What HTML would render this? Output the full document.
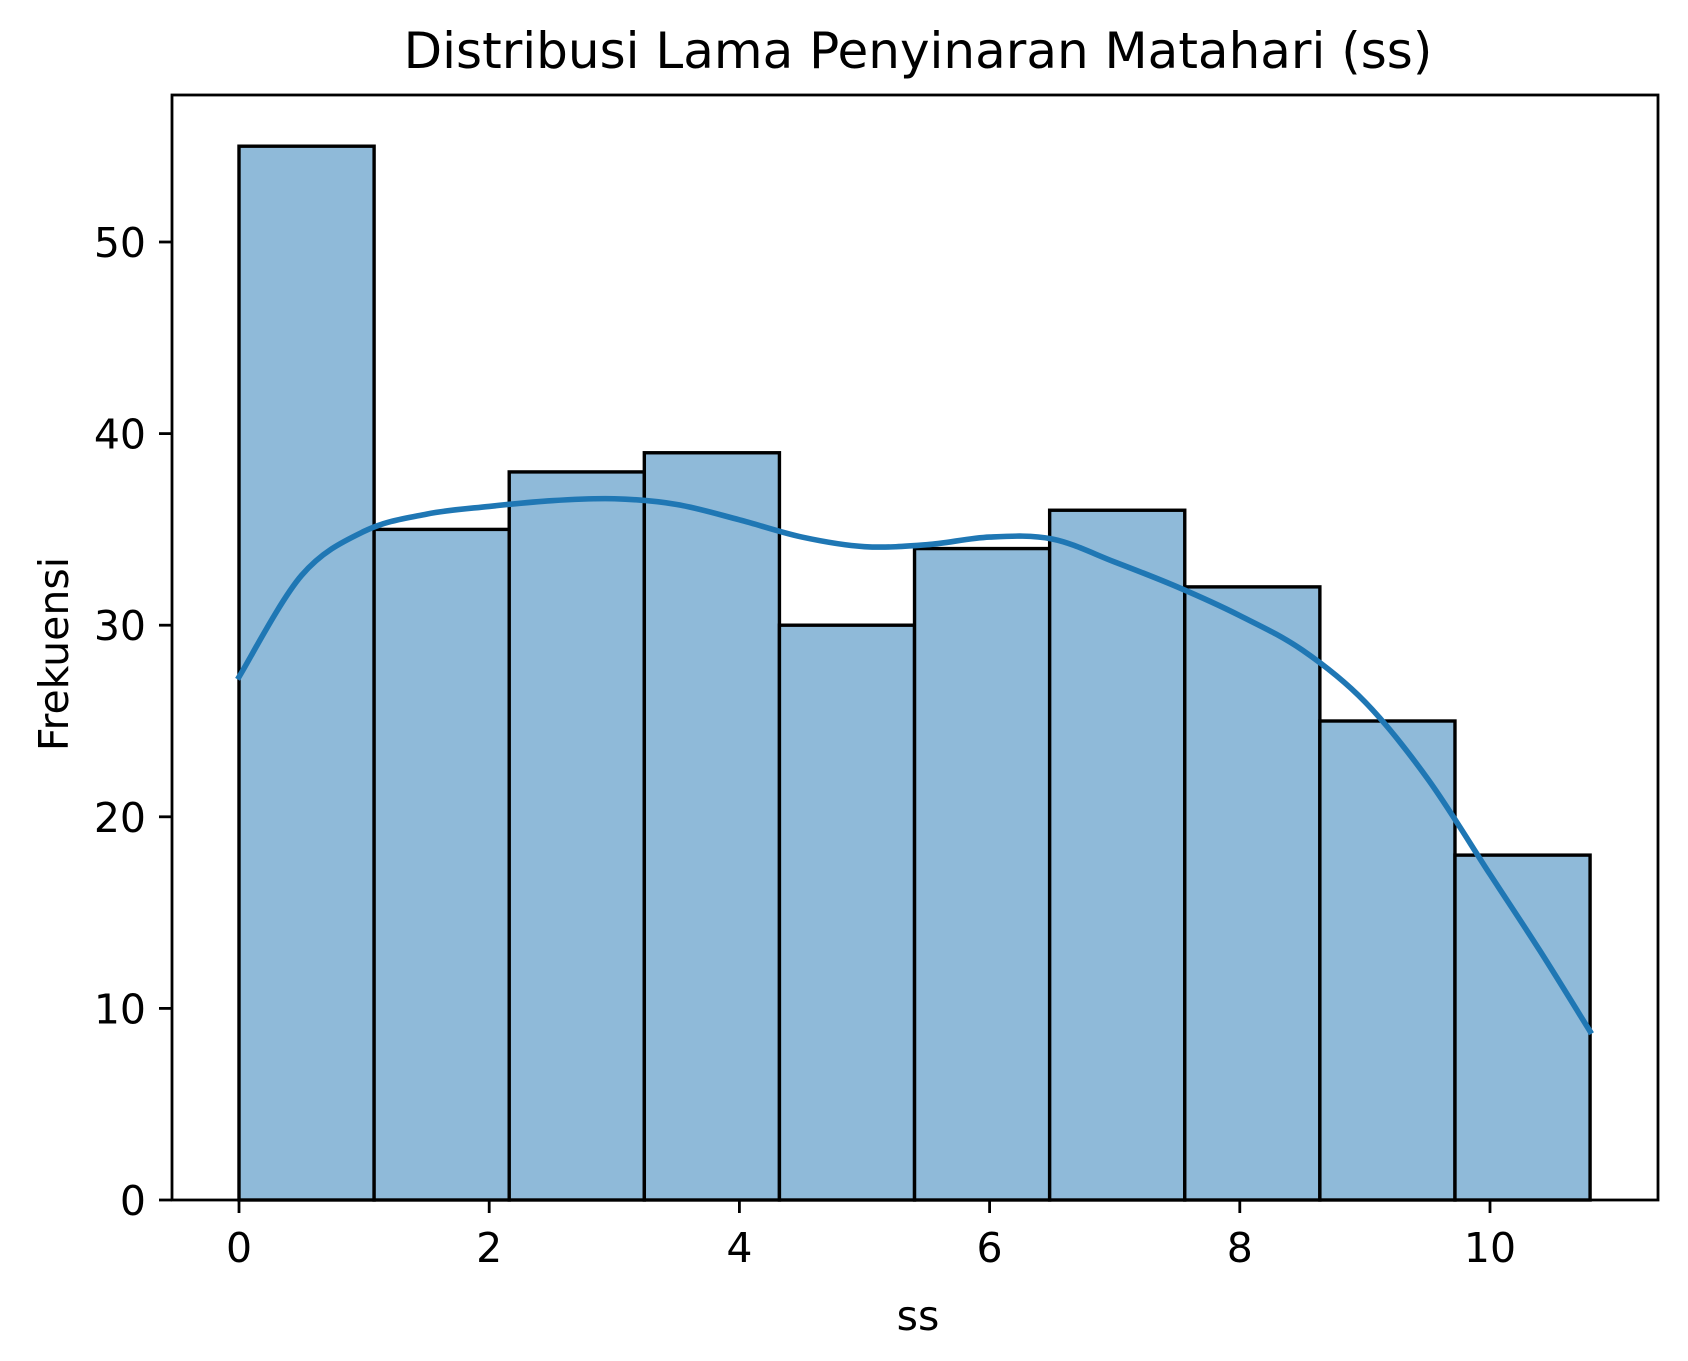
<!DOCTYPE html>
<html><head><meta charset="utf-8"><style>
body{margin:0;background:#fff}
svg{display:block;font-family:"DejaVu Sans","Liberation Sans",sans-serif}
</style></head><body>
<svg id="c" width="1688" height="1361"></svg>
<script>
const binCounts=[55,35,38,39,30,34,36,32,25,18];
const binMin=0, binMax=10.8;
const kdeX=[0,0.5,1,1.5,2,2.5,3,3.5,4,4.5,5,5.5,6,6.5,7,7.5,8,8.5,9,9.5,10,10.4,10.8];
const kdeY=[27.3,32.6,34.9,35.8,36.2,36.5,36.6,36.3,35.5,34.6,34.1,34.2,34.6,34.5,33.3,32,30.5,28.7,26,22,17,13,8.8];
const xTicks=[0,2,4,6,8,10];
const yTicks=[0,10,20,30,40,50];
const L=172,R=1658,T=95,B=1200;
const X=v=>239+v*125.1, Y=v=>1200-v*19.16;
const svg=document.getElementById('c');const NS='http://www.w3.org/2000/svg';
function mk(t,a,p){const e=document.createElementNS(NS,t);for(const k in a)e.setAttribute(k,a[k]);(p||svg).appendChild(e);return e;}
const w=(binMax-binMin)/binCounts.length;
binCounts.forEach((c,i)=>{
 const r=mk('rect',{x:X(binMin+i*w),y:Y(c),width:X(binMin+(i+1)*w)-X(binMin+i*w),height:Y(0)-Y(c),fill:'#8fbad9',stroke:'#000','stroke-width':3.4});
 
 
});
let pts=kdeX.map((x,i)=>[X(x),Y(kdeY[i])]);
let d='M'+pts[0];
for(let i=0;i<pts.length-1;i++){const p0=pts[i-1]||pts[i],p1=pts[i],p2=pts[i+1],p3=pts[i+2]||p2;
 d+=` C${p1[0]+(p2[0]-p0[0])/6},${p1[1]+(p2[1]-p0[1])/6} ${p2[0]-(p3[0]-p1[0])/6},${p2[1]-(p3[1]-p1[1])/6} ${p2[0]},${p2[1]}`;}
const k=mk('path',{d:d,fill:'none',stroke:'#1f77b4','stroke-width':5.6,'stroke-linecap':'square'});


const fr=mk('rect',{x:L,y:T,width:R-L,height:B-T,fill:'none',stroke:'#000','stroke-width':2.8});


xTicks.forEach(t=>{mk('line',{x1:X(t),x2:X(t),y1:B,y2:B+13,stroke:'#000','stroke-width':2.8});
 const e=mk('text',{x:X(t),y:B+62,'text-anchor':'middle','font-size':41});e.textContent=t;
 
 });
yTicks.forEach(t=>{mk('line',{x1:L-13,x2:L,y1:Y(t),y2:Y(t),stroke:'#000','stroke-width':2.8});
 const e=mk('text',{x:L-26,y:Y(t)+15,'text-anchor':'end','font-size':41});e.textContent=t;
 
 });
</script>
<svg style="position:absolute;left:0;top:0" width="1688" height="1361">
<text x="918" y="68" text-anchor="middle" font-size="50">Distribusi Lama Penyinaran Matahari (ss)</text>
<text x="918" y="1330" text-anchor="middle" font-size="41">ss</text>
<text transform="translate(68,654) rotate(-90)" text-anchor="middle" font-size="41">Frekuensi</text>
</svg>
</body></html>
